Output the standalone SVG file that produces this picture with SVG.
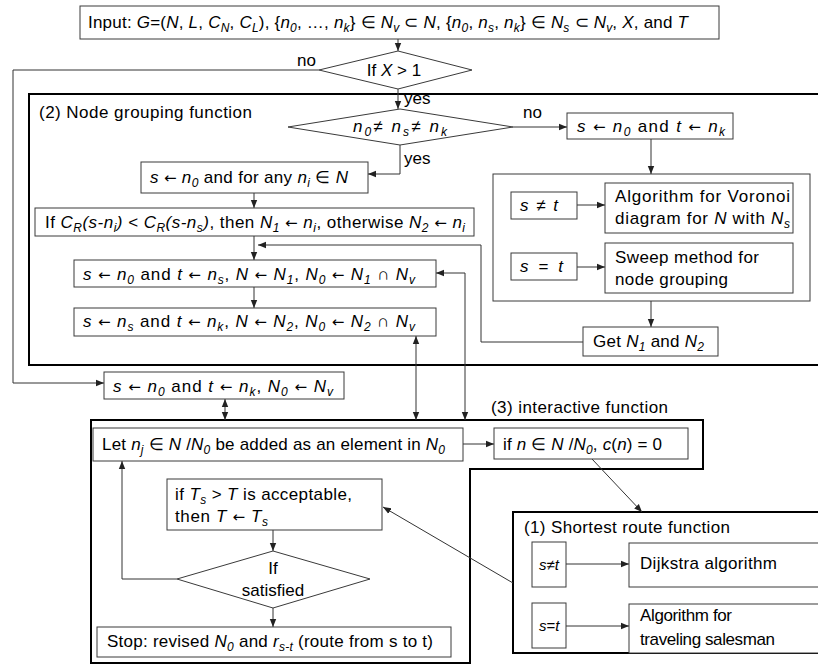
<svg xmlns="http://www.w3.org/2000/svg" width="818" height="666" viewBox="0 0 818 666">
<style>
text{font-family:"Liberation Sans",Arial,sans-serif;font-size:17px;fill:#000}
.i{font-style:italic}
.s{font-style:italic;font-size:12px}
.ar{font-family:"DejaVu Sans",sans-serif;font-size:15px}
.sm{font-size:15px}
.box{fill:#fff;stroke:#3a3a3a;stroke-width:1}
.dia{fill:#fff;stroke:#3a3a3a;stroke-width:1}
.out{fill:none;stroke:#000;stroke-width:2}
.c{fill:none;stroke:#333;stroke-width:1}
</style>
<defs>
<marker id="a" viewBox="0 0 8 8" refX="8" refY="4" markerWidth="8" markerHeight="8" markerUnits="userSpaceOnUse" orient="auto-start-reverse"><path d="M0,0.8 L8,4 L0,7.2 Z" fill="#222"/></marker>
</defs>

<g id="outlines">
<path id="group2" class="out" d="M820,94 H29 V365 H820"/>
<path id="group3" class="out" d="M91,420 H703 V469 H470 V663 H91 Z"/>
<path id="group1" class="out" d="M820,512 H513 V653 H820"/>
<rect id="container" class="box" x="493" y="174" width="317" height="127"/>
</g>

<g id="connectors">
<path class="c" d="M398,39 V51" marker-end="url(#a)"/>
<path class="c" d="M319,70 H13 V383 H104" marker-end="url(#a)"/>
<path class="c" d="M398,89 V109" marker-end="url(#a)"/>
<path class="c" d="M400,145 V174 H368" marker-end="url(#a)"/>
<path class="c" d="M513,127 H567" marker-end="url(#a)"/>
<path class="c" d="M254,193 V208" marker-end="url(#a)"/>
<path class="c" d="M254,236 V260" marker-end="url(#a)"/>
<path class="c" d="M254,287 V308" marker-end="url(#a)"/>
<path class="c" d="M651,139 V174" marker-end="url(#a)"/>
<path class="c" d="M577,205 H605" marker-end="url(#a)"/>
<path class="c" d="M577,267 H605" marker-end="url(#a)"/>
<path class="c" d="M651,301 V327" marker-end="url(#a)"/>
<path class="c" d="M583,342 H481 V245 H258" marker-end="url(#a)"/>
<path class="c" d="M436,273 H465 V420" marker-start="url(#a)" marker-end="url(#a)"/>
<path class="c" d="M416,336 V420" marker-start="url(#a)" marker-end="url(#a)"/>
<path class="c" d="M225,399 V420" marker-start="url(#a)" marker-end="url(#a)"/>
<path class="c" d="M463,444 H494" marker-end="url(#a)"/>
<path class="c" d="M592,459 L642,512" marker-end="url(#a)"/>
<path class="c" d="M513,583 L383,507" marker-end="url(#a)"/>
<path class="c" d="M273,530 V551" marker-end="url(#a)"/>
<path class="c" d="M177,579 H122 V461" marker-end="url(#a)"/>
<path class="c" d="M273,608 V627" marker-end="url(#a)"/>
<path class="c" d="M566,564 H629" marker-end="url(#a)"/>
<path class="c" d="M566,626 H629" marker-end="url(#a)"/>
</g>

<g id="labels">
<text x="297" y="66">no</text>
<text x="404" y="104">yes</text>
<text x="523" y="118">no</text>
<text x="404" y="164">yes</text>
<text x="39" y="118" textLength="213">(2) Node grouping function</text>
<text x="491" y="413" textLength="177">(3) interactive function</text>
<text x="524" y="533" textLength="206">(1) Shortest route function</text>
</g>

<g id="input">
<rect class="box" x="80" y="6" width="639" height="33"/>
<text x="88" y="28" textLength="600">Input: <tspan class="i">G</tspan>=(<tspan class="i">N</tspan>, <tspan class="i">L</tspan>, <tspan class="i">C</tspan><tspan class="s" dy="4">N</tspan><tspan dy="-4">, </tspan><tspan class="i">C</tspan><tspan class="s" dy="4">L</tspan><tspan dy="-4">), {</tspan><tspan class="i">n</tspan><tspan class="s" dy="4">0</tspan><tspan dy="-4">, …, </tspan><tspan class="i">n</tspan><tspan class="s" dy="4">k</tspan><tspan dy="-4">} ∈ </tspan><tspan class="i">N</tspan><tspan class="s" dy="4">v</tspan><tspan dy="-4"> ⊂ </tspan><tspan class="i">N</tspan>, {<tspan class="i">n</tspan><tspan class="s" dy="4">0</tspan><tspan dy="-4">, </tspan><tspan class="i">n</tspan><tspan class="s" dy="4">s</tspan><tspan dy="-4">, </tspan><tspan class="i">n</tspan><tspan class="s" dy="4">k</tspan><tspan dy="-4">} ∈ </tspan><tspan class="i">N</tspan><tspan class="s" dy="4">s</tspan><tspan dy="-4"> ⊂ </tspan><tspan class="i">N</tspan><tspan class="s" dy="4">v</tspan><tspan dy="-4">, </tspan><tspan class="i">X</tspan>, and <tspan class="i">T</tspan></text>
</g>

<g id="decisionX">
<polygon class="dia" points="319,70 398,51 472,70 398,89"/>
<text x="394" y="76" text-anchor="middle">If <tspan class="i">X</tspan> &gt; 1</text>
</g>

<g id="decisionN">
<polygon class="dia" points="288,127 400,109 513,127 400,145"/>
<text x="353" y="132" textLength="94"><tspan class="i">n</tspan><tspan class="s" dy="4">0</tspan><tspan dy="-4">≠ </tspan><tspan class="i">n</tspan><tspan class="s" dy="4">s</tspan><tspan dy="-4">≠  </tspan><tspan class="i">n</tspan><tspan class="s" dy="4">k</tspan></text>
</g>

<g id="forAny">
<rect class="box" x="141" y="162" width="227" height="31"/>
<text x="150" y="183" textLength="198"><tspan class="i">s</tspan> <tspan class="ar">←</tspan> <tspan class="i">n</tspan><tspan class="s" dy="4">0</tspan><tspan dy="-4"> and for any </tspan><tspan class="i">n</tspan><tspan class="s" dy="4">i</tspan><tspan dy="-4"> ∈ </tspan><tspan class="i">N</tspan></text>
</g>

<g id="ifCR">
<rect class="box" x="35" y="208" width="439" height="28"/>
<text x="45" y="228" textLength="420">If <tspan class="i">C</tspan><tspan class="s" dy="4">R</tspan><tspan class="i" dy="-4">(s-n</tspan><tspan class="s" dy="4">i</tspan><tspan class="i" dy="-4">)</tspan> &lt; <tspan class="i">C</tspan><tspan class="s" dy="4">R</tspan><tspan class="i" dy="-4">(s-n</tspan><tspan class="s" dy="4">s</tspan><tspan class="i" dy="-4">)</tspan>, then <tspan class="i">N</tspan><tspan class="s" dy="4">1</tspan><tspan dy="-4"> </tspan><tspan class="ar">←</tspan> <tspan class="i">n</tspan><tspan class="s" dy="4">i</tspan><tspan dy="-4">, otherwise </tspan><tspan class="i">N</tspan><tspan class="s" dy="4">2</tspan><tspan dy="-4"> </tspan><tspan class="ar">←</tspan> <tspan class="i">n</tspan><tspan class="s" dy="4">i</tspan></text>
</g>

<g id="setN1">
<rect class="box" x="74" y="260" width="362" height="27"/>
<text x="83" y="280" textLength="332"><tspan class="i">s</tspan> <tspan class="ar">←</tspan> <tspan class="i">n</tspan><tspan class="s" dy="4">0</tspan><tspan dy="-4"> and </tspan><tspan class="i">t</tspan> <tspan class="ar">←</tspan> <tspan class="i">n</tspan><tspan class="s" dy="4">s</tspan><tspan dy="-4">, </tspan><tspan class="i">N</tspan> <tspan class="ar">←</tspan> <tspan class="i">N</tspan><tspan class="s" dy="4">1</tspan><tspan dy="-4">, </tspan><tspan class="i">N</tspan><tspan class="s" dy="4">0</tspan><tspan dy="-4"> </tspan><tspan class="ar">←</tspan> <tspan class="i">N</tspan><tspan class="s" dy="4">1</tspan><tspan dy="-4"> ∩ </tspan><tspan class="i">N</tspan><tspan class="s" dy="4">v</tspan></text>
</g>

<g id="setN2">
<rect class="box" x="74" y="308" width="362" height="28"/>
<text x="83" y="327" textLength="332"><tspan class="i">s</tspan> <tspan class="ar">←</tspan> <tspan class="i">n</tspan><tspan class="s" dy="4">s</tspan><tspan dy="-4"> and </tspan><tspan class="i">t</tspan> <tspan class="ar">←</tspan> <tspan class="i">n</tspan><tspan class="s" dy="4">k</tspan><tspan dy="-4">, </tspan><tspan class="i">N</tspan> <tspan class="ar">←</tspan> <tspan class="i">N</tspan><tspan class="s" dy="4">2</tspan><tspan dy="-4">, </tspan><tspan class="i">N</tspan><tspan class="s" dy="4">0</tspan><tspan dy="-4"> </tspan><tspan class="ar">←</tspan> <tspan class="i">N</tspan><tspan class="s" dy="4">2</tspan><tspan dy="-4"> ∩ </tspan><tspan class="i">N</tspan><tspan class="s" dy="4">v</tspan></text>
</g>

<g id="setNv">
<rect class="box" x="104" y="372" width="240" height="27"/>
<text x="113" y="392" textLength="220"><tspan class="i">s</tspan> <tspan class="ar">←</tspan> <tspan class="i">n</tspan><tspan class="s" dy="4">0</tspan><tspan dy="-4"> and </tspan><tspan class="i">t</tspan> <tspan class="ar">←</tspan> <tspan class="i">n</tspan><tspan class="s" dy="4">k</tspan><tspan dy="-4">, </tspan><tspan class="i">N</tspan><tspan class="s" dy="4">0</tspan><tspan dy="-4"> </tspan><tspan class="ar">←</tspan> <tspan class="i">N</tspan><tspan class="s" dy="4">v</tspan></text>
</g>

<g id="setST">
<rect class="box" x="567" y="113" width="166" height="26"/>
<text x="577" y="132" textLength="148"><tspan class="i">s</tspan> <tspan class="ar">←</tspan> <tspan class="i">n</tspan><tspan class="s" dy="4">0</tspan><tspan dy="-4"> and </tspan><tspan class="i">t</tspan> <tspan class="ar">←</tspan> <tspan class="i">n</tspan><tspan class="s" dy="4">k</tspan></text>
</g>

<g id="condNe">
<rect class="box" x="511" y="192" width="66" height="27"/>
<text x="520" y="211" textLength="38"><tspan class="i">s</tspan> ≠ <tspan class="i">t</tspan></text>
</g>
<g id="voronoi">
<rect class="box" x="605" y="183" width="188" height="50"/>
<text x="615" y="202" textLength="175">Algorithm for Voronoi</text>
<text x="615" y="224" textLength="175">diagram for <tspan class="i">N</tspan> with <tspan class="i">N</tspan><tspan class="s" dy="4">s</tspan></text>
</g>
<g id="condEq">
<rect class="box" x="511" y="253" width="66" height="27"/>
<text x="520" y="272" textLength="43"><tspan class="i">s</tspan> =  <tspan class="i">t</tspan></text>
</g>
<g id="sweep">
<rect class="box" x="605" y="243" width="188" height="50"/>
<text x="615" y="263" textLength="144">Sweep method for</text>
<text x="615" y="285" textLength="113">node grouping</text>
</g>

<g id="getN">
<rect class="box" x="583" y="327" width="135" height="29"/>
<text x="593" y="347" textLength="111">Get <tspan class="i">N</tspan><tspan class="s" dy="4">1</tspan><tspan dy="-4"> and </tspan><tspan class="i">N</tspan><tspan class="s" dy="4">2</tspan></text>
</g>

<g id="letNj">
<rect class="box" x="93" y="428" width="370" height="33"/>
<text x="102" y="450" textLength="343">Let <tspan class="i">n</tspan><tspan class="s" dy="4">j</tspan><tspan dy="-4"> ∈ </tspan><tspan class="i">N</tspan> /<tspan class="i">N</tspan><tspan class="s" dy="4">0</tspan><tspan dy="-4"> be added as an element in </tspan><tspan class="i">N</tspan><tspan class="s" dy="4">0</tspan></text>
</g>

<g id="ifN">
<rect class="box" x="494" y="428" width="194" height="31"/>
<text x="503" y="450" textLength="159">if <tspan class="i">n</tspan> ∈ <tspan class="i">N</tspan> /<tspan class="i">N</tspan><tspan class="s" dy="4">0</tspan><tspan dy="-4">, </tspan><tspan class="i">c</tspan>(<tspan class="i">n</tspan>) = 0</text>
</g>

<g id="ifTs">
<rect class="box" x="167" y="479" width="215" height="51"/>
<text x="175" y="500" textLength="177">if <tspan class="i">T</tspan><tspan class="s" dy="4">s</tspan><tspan dy="-4"> &gt; </tspan><tspan class="i">T</tspan> is acceptable,</text>
<text x="175" y="522" textLength="93">then <tspan class="i">T</tspan> <tspan class="ar">←</tspan> <tspan class="i">T</tspan><tspan class="s" dy="4">s</tspan></text>
</g>

<g id="satisfied">
<polygon class="dia" points="177,579 273,551 370,579 273,608"/>
<text x="273" y="574" text-anchor="middle">If</text>
<text x="273" y="596" text-anchor="middle">satisfied</text>
</g>

<g id="stop">
<rect class="box" x="97" y="627" width="354" height="30"/>
<text x="107" y="647" textLength="326">Stop: revised <tspan class="i">N</tspan><tspan class="s" dy="4">0</tspan><tspan dy="-4"> and </tspan><tspan class="i">r</tspan><tspan class="s" dy="4">s-t</tspan><tspan dy="-4"> (route from s to t)</tspan></text>
</g>

<g id="srNe">
<rect class="box" x="532" y="542" width="34" height="45"/>
<text class="sm" x="539" y="570"><tspan class="i">s</tspan>≠<tspan class="i">t</tspan></text>
</g>
<g id="dijkstra">
<rect class="box" x="629" y="543" width="195" height="44"/>
<text x="640" y="569" textLength="137">Dijkstra algorithm</text>
</g>
<g id="srEq">
<rect class="box" x="532" y="603" width="34" height="45"/>
<text class="sm" x="539" y="631"><tspan class="i">s</tspan>=<tspan class="i">t</tspan></text>
</g>
<g id="tsp">
<rect class="box" x="629" y="604" width="195" height="49"/>
<text x="640" y="621" textLength="92">Algorithm for</text>
<text x="640" y="645" textLength="135">traveling salesman</text>
</g>
</svg>
